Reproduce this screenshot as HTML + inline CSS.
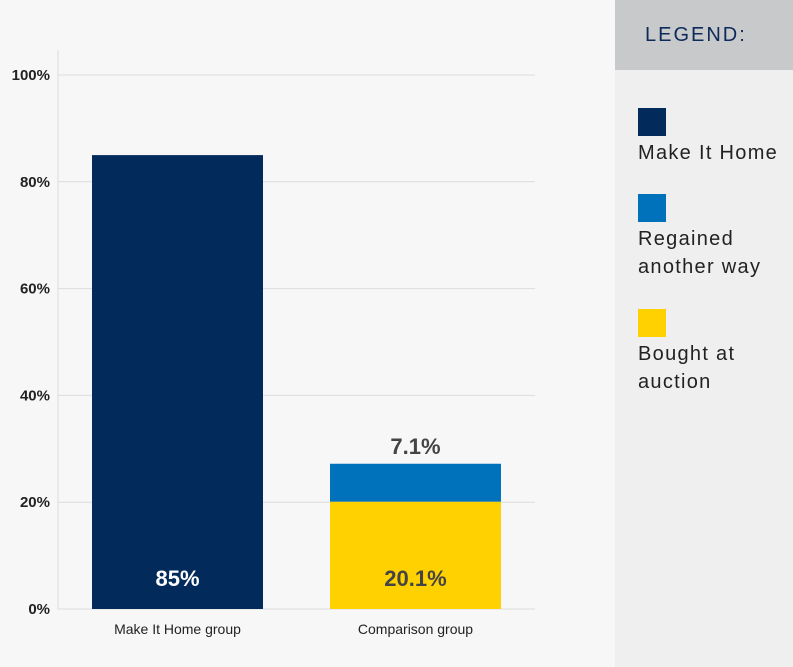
<!DOCTYPE html>
<html><head><meta charset="utf-8"><style>
body{margin:0;width:793px;height:667px;overflow:hidden;background:#f7f7f7;font-family:"Liberation Sans",sans-serif;position:relative}
#legend{position:absolute;left:615px;top:0;width:178px;height:667px;background:#efefef}
#lh{position:absolute;left:0;top:0;width:178px;height:70px;background:#c8c9cb}
#lh span{position:absolute;left:30px;top:24px;font-size:20px;letter-spacing:2px;color:#0e2a5a}
.sw{position:absolute;left:23px;width:28px;height:28px}
.lt{position:absolute;left:23px;font-size:20px;line-height:28px;color:#222;letter-spacing:1.3px}
</style></head><body>
<svg id="chart" width="615" height="667" style="position:absolute;left:0;top:0"></svg>
<div id="legend">
<div id="lh"><span>LEGEND:</span></div>
<div class="sw" style="top:108px;background:#022b5b"></div>
<div class="lt" style="top:139px">Make It Home</div>
<div class="sw" style="top:194px;background:#0072bc"></div>
<div class="lt" style="top:225px">Regained<br>another way</div>
<div class="sw" style="top:309px;background:#ffd100"></div>
<div class="lt" style="top:340px">Bought at<br>auction</div>
</div>
<script>
const categories=["Make It Home group","Comparison group"];
const makeItHome=[85,0];
const auction=[0,20.1];
const regained=[0,7.1];
const ticks=[0,20,40,60,80,100];
const tickLabels=["0%","20%","40%","60%","80%","100%"];
const NS="http://www.w3.org/2000/svg";
const svg=document.getElementById('chart');
const y0=609,pxPer=5.34;
const y=v=>y0-v*pxPer;
const bx=i=>92+i*238, bw=171;
function mk(t,a){const e=document.createElementNS(NS,t);for(const k in a)e.setAttribute(k,a[k]);svg.appendChild(e);return e;}
ticks.forEach((t,i)=>{
 const g=mk('line',{x1:58,x2:535,y1:y(t),y2:y(t),stroke:'#dcdcdc','stroke-width':1});
 
 
 const l=mk('text',{x:50,y:y(t)+5,'text-anchor':'end','font-size':15,'font-weight':'bold',fill:'#222'});
 l.textContent=tickLabels[i];
 
 
});
const ax=mk('line',{x1:58,x2:58,y1:50,y2:609,stroke:'#dcdcdc','stroke-width':1});


function bar(i,base,v,col,name){
 if(!v)return;
 const r=mk('rect',{x:bx(i),y:y(base+v),width:bw,height:v*pxPer,fill:col});
 
 
}
categories.forEach((c,i)=>{
 bar(i,0,makeItHome[i],'#022b5b','bar-make-it-home');
 bar(i,0,auction[i],'#ffd100','bar-auction');
 bar(i,auction[i],regained[i],'#0072bc','bar-regained');
 const t=mk('text',{x:bx(i)+bw/2,y:634,'text-anchor':'middle','font-size':14,fill:'#222'});
 t.textContent=c;
 
 
 const fmt=v=>(Number.isInteger(v)?v:v.toFixed(1))+'%';
 if(makeItHome[i]){const v=mk('text',{x:bx(i)+bw/2,y:586,'text-anchor':'middle','font-size':22,'font-weight':'bold',fill:'#fff'});v.textContent=fmt(makeItHome[i]);}
 if(auction[i]){const v=mk('text',{x:bx(i)+bw/2,y:586,'text-anchor':'middle','font-size':22,'font-weight':'bold',fill:'#444'});v.textContent=fmt(auction[i]);}
 if(regained[i]){const v=mk('text',{x:bx(i)+bw/2,y:y(auction[i]+regained[i])-10,'text-anchor':'middle','font-size':22,'font-weight':'bold',fill:'#444'});v.textContent=fmt(regained[i]);}
});
</script>
</body></html>
